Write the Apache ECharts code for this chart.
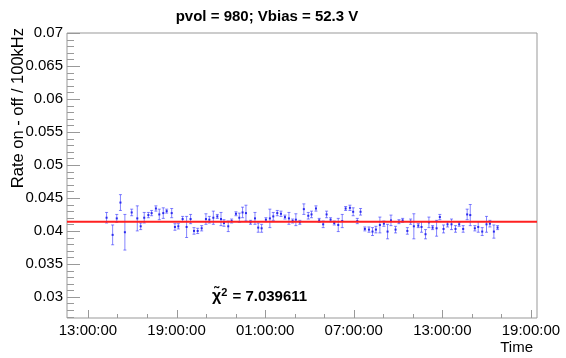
<!DOCTYPE html>
<html>
<head>
<meta charset="utf-8">
<script src="https://cdn.jsdelivr.net/npm/echarts@6/dist/echarts.min.js"></script>
<style>
  html, body { margin: 0; padding: 0; background: #fff; }
  #chart { width: 566px; height: 358px; }
</style>
</head>
<body>
<div id="chart"></div>
<script>
// Measurement times, in hours after 13:00:00 on the first day
const hours = [
  1.26, 1.67, 1.95, 2.20, 2.50, 2.96, 3.34, 3.57, 3.81, 4.09, 4.31, 4.60,
  4.83, 5.10, 5.33, 5.67, 5.89, 6.12, 6.41, 6.68, 6.95, 7.18, 7.43, 7.70,
  7.99, 8.22, 8.49, 8.76, 9.01, 9.21, 9.50, 9.73, 10.02, 10.25, 10.47, 10.70,
  11.01, 11.31, 11.53, 11.76, 12.05, 12.32, 12.55, 12.82, 13.07, 13.34, 13.61, 13.86, 14.08,
  14.35, 14.62, 14.92, 15.14, 15.44, 15.66, 15.93, 16.16, 16.43, 16.68, 16.95, 17.22,
  17.45, 17.74, 17.96, 18.24, 18.46, 18.75, 19.03, 19.27, 19.50, 19.77, 20.04, 20.29,
  20.52, 20.83, 21.06, 21.31, 21.63,
  21.85, 22.07, 22.37, 22.59, 22.86, 23.09, 23.34, 23.61, 23.83, 24.08, 24.35, 24.62,
  24.89, 25.14, 25.41, 25.68, 25.89, 26.20, 26.43, 26.70, 26.99, 27.22, 27.49, 27.74
];

// Rate on - off per 100 kHz
const rates = [
  0.0420, 0.0394, 0.0419, 0.0443, 0.0398, 0.0428, 0.0419, 0.0407, 0.0420, 0.0424, 0.0427, 0.0434,
  0.0425, 0.0427, 0.0430, 0.0427, 0.0406, 0.0407, 0.0418, 0.0406, 0.0418, 0.0400, 0.0400, 0.0404,
  0.0418, 0.0417, 0.0420, 0.0422, 0.0418, 0.0412, 0.0407, 0.0415, 0.0426, 0.0420, 0.0428, 0.0427,
  0.0413, 0.0419, 0.0405, 0.0404, 0.0417, 0.0419, 0.0422, 0.0427, 0.0426, 0.0421, 0.0419, 0.0415, 0.0417,
  0.0413, 0.0433, 0.0423, 0.0425, 0.0434, 0.0416, 0.0410, 0.0425, 0.0417, 0.0412, 0.0409, 0.0415,
  0.0434, 0.0435, 0.0429, 0.0415, 0.0429, 0.0403, 0.0402, 0.0399, 0.0402, 0.0409, 0.0411, 0.0399,
  0.0416, 0.0402, 0.0414, 0.0416, 0.0400,
  0.0414, 0.0407, 0.0408, 0.0406, 0.0395, 0.0413, 0.0405, 0.0404, 0.0421, 0.0403, 0.0410, 0.0410,
  0.0403, 0.0410, 0.0403, 0.0425, 0.0424, 0.0404, 0.0406, 0.0399, 0.0410, 0.0411, 0.0399, 0.0405
];

// Statistical error on each rate
const errors = [
  0.0008, 0.0015, 0.0006, 0.0012, 0.0027, 0.0005, 0.0019, 0.0005, 0.0008, 0.0004, 0.0004, 0.0004,
  0.0008, 0.0008, 0.0003, 0.0007, 0.0005, 0.0004, 0.0004, 0.0016, 0.0007, 0.0005, 0.0004, 0.0004,
  0.0008, 0.0005, 0.0010, 0.0003, 0.0010, 0.0005, 0.0008, 0.0003, 0.0003, 0.0007, 0.0008, 0.0012,
  0.0003, 0.0009, 0.0007, 0.0006, 0.0003, 0.0014, 0.0006, 0.0004, 0.0004, 0.0003, 0.0009, 0.0003, 0.0009,
  0.0003, 0.0008, 0.0005, 0.0005, 0.0004, 0.0003, 0.0005, 0.0005, 0.0003, 0.0003, 0.0010, 0.0010,
  0.0003, 0.0004, 0.0006, 0.0004, 0.0005, 0.0003, 0.0004, 0.0006, 0.0005, 0.0012, 0.0004, 0.0011,
  0.0008, 0.0005, 0.0003, 0.0003, 0.0005,
  0.0004, 0.0019, 0.0003, 0.0008, 0.0007, 0.0008, 0.0003, 0.0012, 0.0004, 0.0006, 0.0004, 0.0008,
  0.0005, 0.0003, 0.0005, 0.0008, 0.0016, 0.0004, 0.0008, 0.0006, 0.0012, 0.0005, 0.0010, 0.0003
];

// Constant fit and its reduced chi-square
const fitValue = 0.0414;
const chi2Text = '7.039611';

// Axis ticks and labels
const xTickValues = [0, 6, 12, 18, 24, 30];
const xTickLabels = ['13:00:00', '19:00:00', '01:00:00', '07:00:00', '13:00:00', '19:00:00'];
const xMinorTicks = [2, 4, 8, 10, 14, 16, 20, 22, 26, 28];
const yTickValues = [0.03, 0.035, 0.04, 0.045, 0.05, 0.055, 0.06, 0.065, 0.07];
const yTickLabels = ['0.03', '0.035', '0.04', '0.045', '0.05', '0.055', '0.06', '0.065', '0.07'];
const yMinorTicks = [0.027, 0.028, 0.029, 0.031, 0.032, 0.033, 0.034, 0.036, 0.037, 0.038, 0.039,
  0.041, 0.042, 0.043, 0.044, 0.046, 0.047, 0.048, 0.049, 0.051, 0.052, 0.053, 0.054,
  0.056, 0.057, 0.058, 0.059, 0.061, 0.062, 0.063, 0.064, 0.066, 0.067, 0.068, 0.069];

const X_MIN = -1.42, X_MAX = 30.41;
const Y_MIN = 0.0268, Y_MAX = 0.07;

const FONT = '"Liberation Sans", Arial, Helvetica, sans-serif';
const AXIS_GREY = '#999999';

const points = hours.map((h, i) => [h, rates[i], errors[i]]);

// Tick marks drawn inward from the frame: [axis, value, length]
const tickMarks = []
  .concat(xTickValues.map(v => ['x', v, 8]))
  .concat(xMinorTicks.map(v => ['x', v, 4]))
  .concat(yTickValues.map(v => ['y', v, 13]))
  .concat(yMinorTicks.map(v => ['y', v, 7]));

const chart = echarts.init(document.getElementById('chart'), null, { renderer: 'canvas' });

function tickIndex(list, v) {
  let best = 0;
  list.forEach((t, i) => { if (Math.abs(t - v) < Math.abs(list[best] - v)) best = i; });
  return best;
}

chart.setOption({
  animation: false,
  backgroundColor: '#ffffff',
  title: {
    text: 'pvol = 980; Vbias = 52.3 V',
    left: 262, top: 4, textAlign: 'center',
    textStyle: { fontFamily: FONT, fontSize: 15, fontWeight: 'bold', color: '#000' }
  },
  grid: {
    left: 67, right: 29, top: 33, bottom: 40,
    show: true, borderColor: AXIS_GREY, borderWidth: 1, backgroundColor: 'transparent'
  },
  xAxis: {
    type: 'value', min: X_MIN, max: X_MAX, position: 'bottom',
    axisLine: { show: false, onZero: false }, splitLine: { show: false },
    axisTick: { show: false },
    axisLabel: { show: true, customValues: xTickValues, margin: 5,
      fontFamily: FONT, fontSize: 15, color: '#000',
      formatter: v => xTickLabels[tickIndex(xTickValues, v)] }
  },
  yAxis: {
    type: 'value', min: Y_MIN, max: Y_MAX, position: 'left',
    axisLine: { show: false, onZero: false }, splitLine: { show: false },
    axisTick: { show: false },
    axisLabel: { show: true, customValues: yTickValues, margin: 4,
      fontFamily: FONT, fontSize: 15, color: '#000',
      formatter: v => yTickLabels[tickIndex(yTickValues, v)] }
  },
  graphic: [
    {
      type: 'text', x: 10, y: 28, rotation: Math.PI / 2,
      style: { text: 'Rate on - off / 100kHz', fontFamily: FONT, fontSize: 16.5, fill: '#000',
        textAlign: 'right', textVerticalAlign: 'top' }
    },
    {
      type: 'text', x: 533, y: 340,
      style: { text: 'Time', fontFamily: FONT, fontSize: 15, fill: '#000', textAlign: 'right' }
    },
    {
      type: 'text', x: 212, y: 287,
      style: {
        text: '{c|χ̃}{s|2}{n| = ' + chi2Text + '}',
        rich: {
          c: { fontFamily: FONT, fontSize: 16, fontWeight: 'bold', fill: '#000' },
          s: { fontFamily: FONT, fontSize: 11, fontWeight: 'bold', fill: '#000', verticalAlign: 'top', padding: [0, 1, 8, 0] },
          n: { fontFamily: FONT, fontSize: 15, fontWeight: 'bold', fill: '#000' }
        }
      }
    }
  ],
  series: [
    {
      // inward ticks on the bottom and left frame edges
      type: 'custom',
      data: tickMarks,
      dimensions: ['axis', 'value', 'len'],
      encode: { x: -1, y: -1 },
      clip: false,
      silent: true,
      renderItem: function (params, api) {
        const cs = params.coordSys;
        const item = tickMarks[params.dataIndex];
        const len = item[2];
        const style = { stroke: AXIS_GREY, lineWidth: 1 };
        if (item[0] === 'x') {
          const px = Math.round(api.coord([item[1], Y_MIN])[0]) + 0.5;
          const bottom = cs.y + cs.height;
          return { type: 'line', shape: { x1: px, y1: bottom, x2: px, y2: bottom - len }, style: style };
        }
        const py = Math.round(api.coord([X_MIN, item[1]])[1]) + 0.5;
        return { type: 'line', shape: { x1: cs.x, y1: py, x2: cs.x + len, y2: py }, style: style };
      }
    },
    {
      type: 'custom',
      data: points,
      clip: true,
      renderItem: function (params, api) {
        const x = api.value(0), y = api.value(1), e = api.value(2);
        const c = api.coord([x, y]);
        const top = api.coord([x, y + e])[1];
        const bot = api.coord([x, y - e])[1];
        const bar = { stroke: 'rgba(50,50,255,0.6)', lineWidth: 1 };
        return {
          type: 'group',
          children: [
            { type: 'line', shape: { x1: c[0], y1: top, x2: c[0], y2: bot }, style: bar },
            { type: 'line', shape: { x1: c[0] - 1.5, y1: top, x2: c[0] + 1.5, y2: top }, style: bar },
            { type: 'line', shape: { x1: c[0] - 1.5, y1: bot, x2: c[0] + 1.5, y2: bot }, style: bar },
            { type: 'rect', shape: { x: c[0] - 1, y: c[1] - 1, width: 2, height: 2 },
              style: { fill: '#2a2aee' } }
          ]
        };
      }
    },
    {
      type: 'line',
      data: [[X_MIN, fitValue], [X_MAX, fitValue]],
      symbol: 'none',
      color: '#ff0000',
      lineStyle: { color: '#ff2020', width: 2 },
      emphasis: { disabled: true },
      silent: true,
      z: 3
    }
  ]
});
</script>
</body>
</html>
